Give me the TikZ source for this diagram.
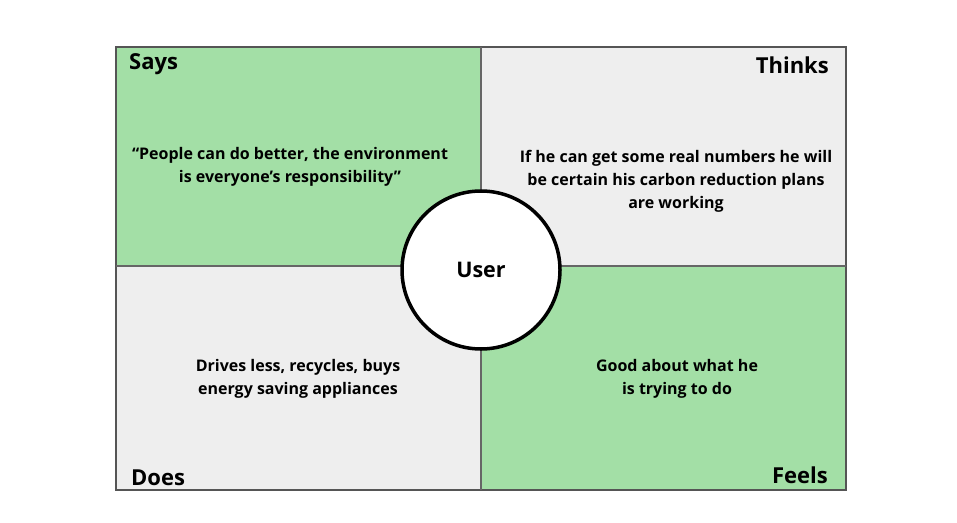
\documentclass[tikz,border=0pt]{standalone}
\usepackage{fontspec}
\setmainfont{Open Sans}
\usepackage{tikz}
\usetikzlibrary{backgrounds}
\definecolor{c_green}{HTML}{A3DFA6}
\definecolor{c_grey}{HTML}{EEEEEE}
\definecolor{c_edge}{HTML}{555555}
\definecolor{c_split}{HTML}{666666}
\tikzset{
  quad/.style={draw=c_edge, line width=1.2pt},
  head/.style={font=\fontsize{22}{24}\selectfont\bfseries, inner sep=0pt},
  body/.style={font=\fontsize{16}{23}\selectfont\bfseries, align=center, inner sep=0pt},
}

\begin{document}
\begin{tikzpicture}[x=1pt,y=-1pt]
	\useasboundingbox (0,0) rectangle (957,522);

	% four quadrants
	\fill [c_green] (116,47) rectangle (481,266);
	\fill [c_grey]  (481,47) rectangle (846,266);
	\fill [c_grey]  (116,266) rectangle (481,490);
	\fill [c_green] (481,266) rectangle (846,490);
	\draw [quad] (116,47) rectangle (846,490);
	\draw [c_split, line width=2pt] (481,47) -- (481,490);
	\draw [c_split, line width=1.2pt] (116,266) -- (846,266);

	% headings
	\node [head, anchor=west] (says) at (129,64) {Says};
	\node [head, anchor=east] (thinks) at (829,65) {Thinks};
	\node [head, anchor=west] (does) at (131,478) {Does};
	\node [head, anchor=east] (feels) at (828,475) {Feels};

	% quotes
	\node [body] (saystext) at (290,167) {“People can do better, the environment\\is everyone’s responsibility”};
	\node [body] (thinkstext) at (676,181) {If he can get some real numbers he will\\be certain his carbon reduction plans\\are working};
	\node [body] (doestext) at (298,379) {Drives less, recycles, buys\\energy saving appliances};
	\node [body] (feelstext) at (677,379) {Good about what he\\is trying to do};

	% centre
	\node [circle, draw=black, line width=3.5pt, fill=white, minimum size=158pt, inner sep=0pt,
	       font=\fontsize{21.5}{24}\selectfont\bfseries] (user) at (481,270) {User};
\end{tikzpicture}
\end{document}
